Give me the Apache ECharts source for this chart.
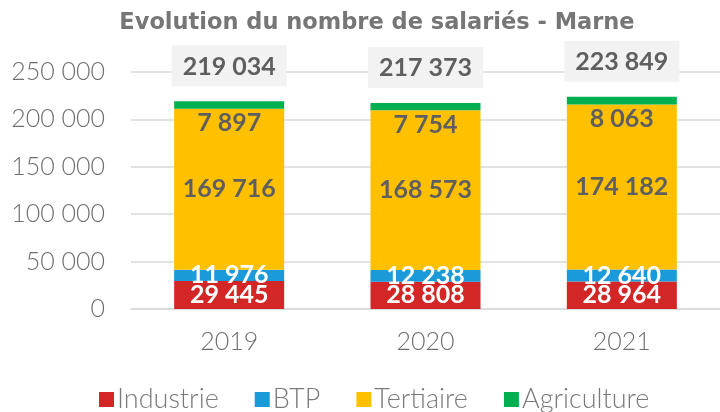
<!DOCTYPE html>
<html>
<head>
<meta charset="utf-8">
<script src="https://cdn.jsdelivr.net/npm/echarts@6/dist/echarts.min.js"></script>
<style>
html,body{margin:0;padding:0;background:#fff;}
#chart{width:720px;height:412px;}
</style>
</head>
<body>
<div id="chart"></div>
<script>
const categories = ['2019', '2020', '2021'];
const industrie = [29445, 28808, 28964];
const btp = [11976, 12238, 12640];
const tertiaire = [169716, 168573, 174182];
const agriculture = [7897, 7754, 8063];
const totals = [219034, 217373, 223849];
const yTicks = [0, 50000, 100000, 150000, 200000, 250000];

const FONT = 'Lato';
function fmt(v) {
  return String(v).replace(/\B(?=(\d{3})+(?!\d))/g, ' ');
}

const chart = echarts.init(document.getElementById('chart'), null, {renderer: 'canvas'});

function seg(name, data, color, labelColor, pos) {
  return {
    name: name,
    type: 'bar',
    stack: 'total',
    data: data,
    barWidth: 110,
    itemStyle: {color: color},
    label: {
      show: true,
      position: pos || 'inside',
      distance: 2,
      formatter: p => fmt(p.value),
      color: labelColor,
      fontFamily: FONT,
      fontWeight: 'bold',
      fontSize: 25
    },
    emphasis: {disabled: true}
  };
}

const option = {
  animation: false,
  backgroundColor: '#ffffff',
  title: {
    text: 'Evolution du nombre de salariés - Marne',
    left: 372,
    textAlign: 'center',
    top: 7,
    textStyle: {fontFamily: 'DejaVu Sans', fontWeight: 'bold', fontSize: 22.5, color: '#767676'}
  },
  legend: {
    data: ['Industrie', 'BTP', 'Tertiaire', 'Agriculture'],
    left: 99,
    top: 386,
    padding: 0,
    icon: 'rect',
    itemWidth: 15,
    itemHeight: 15,
    itemGap: 36,
    textStyle: {fontFamily: FONT, fontWeight: 300, fontSize: 27, color: '#7a7a7a', padding: [0, 0, 0, -2]}
  },
  grid: {left: 131, right: 0, top: 72, bottom: 103},
  xAxis: {
    type: 'category',
    data: categories,
    axisLine: {show: true, lineStyle: {color: '#d9d9d9', width: 1.5}},
    axisTick: {show: false},
    axisLabel: {fontFamily: FONT, fontWeight: 300, fontSize: 25, color: '#6f6f6f', margin: 20}
  },
  yAxis: {
    type: 'value',
    min: 0,
    max: 250000,
    interval: 50000,
    axisLine: {show: false},
    axisTick: {show: false},
    splitLine: {lineStyle: {color: '#d9d9d9', width: 1.5}},
    axisLabel: {
      fontFamily: FONT, fontWeight: 300, fontSize: 25, color: '#6f6f6f', margin: 26,
      formatter: v => yTicks.includes(v) ? fmt(v) : ''
    }
  },
  series: [
    seg('Industrie', industrie, '#d32626', '#ffffff'),
    seg('BTP', btp, '#1a9ad8', '#ffffff'),
    seg('Tertiaire', tertiaire, '#ffc000', '#5f5f5f'),
    seg('Agriculture', agriculture, '#00b050', '#5f5f5f', 'bottom'),
    {
      name: 'Total',
      type: 'bar',
      stack: 'total',
      data: totals.map(() => 0),
      barWidth: 110,
      itemStyle: {color: 'transparent'},
      label: {
        show: true,
        position: 'top',
        distance: 15,
        formatter: p => fmt(totals[p.dataIndex]),
        backgroundColor: '#f2f2f2',
        padding: [9, 11, 7, 11],
        color: '#5f5f5f',
        fontFamily: FONT,
        fontWeight: 'bold',
        fontSize: 25
      },
      emphasis: {disabled: true}
    }
  ]
};
chart.setOption(option);
</script>
</body>
</html>
